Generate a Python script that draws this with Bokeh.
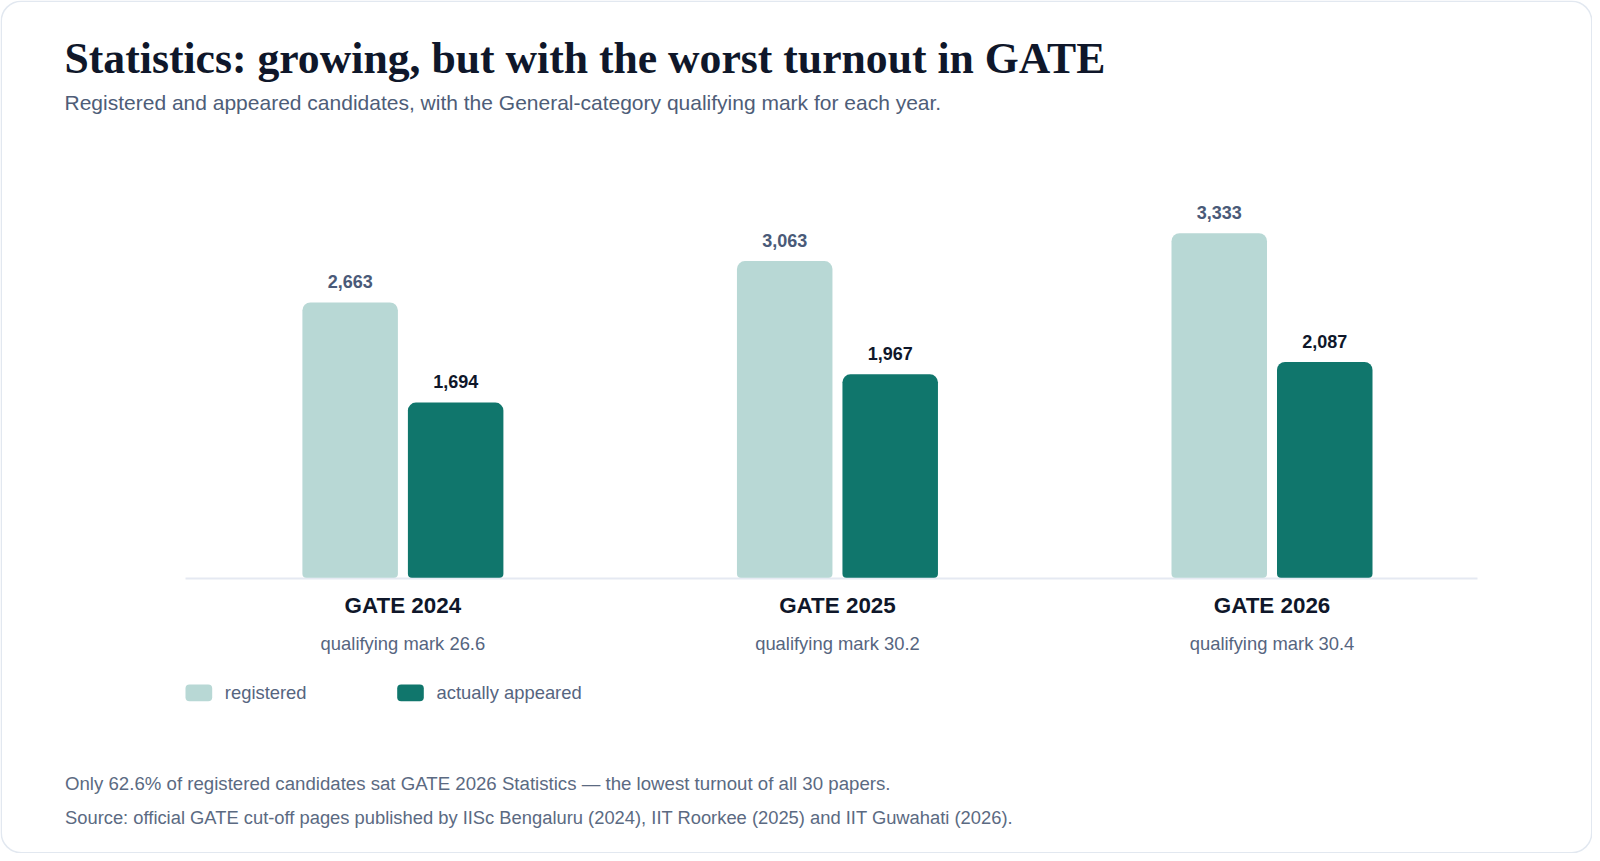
from bokeh.plotting import figure
from bokeh.models import Range1d
from bokeh.core.properties import value
from bokeh.embed import file_html
from bokeh.resources import INLINE

# ---- data ----
years = ["GATE 2024", "GATE 2025", "GATE 2026"]
qualifying_marks = [26.6, 30.2, 30.4]
registered = [2663, 3063, 3333]
appeared = [1694, 1967, 2087]
series_names = ["registered", "actually appeared"]
series_colors = ["#b8d8d5", "#10766c"]

title_text = "Statistics: growing, but with the worst turnout in GATE"
subtitle_text = "Registered and appeared candidates, with the General-category qualifying mark for each year."
note_text = "Only 62.6% of registered candidates sat GATE 2026 Statistics \u2014 the lowest turnout of all 30 papers."
source_text = "Source: official GATE cut-off pages published by IISc Bengaluru (2024), IIT Roorkee (2025) and IIT Guwahati (2026)."

# ---- geometry (pixels) ----
W, H = 1592, 853
GROUP_X0 = 402.4              # pixel centre of first group
GROUP_STEP = 434.55           # pixels between group centres
BASE_Y = 577.2                # pixel row of value 0 (from top)
PX_PER_UNIT = 0.10338         # pixels per candidate
TXT_CORR = 0.33               # baseline correction (em)

xs = -GROUP_X0 / GROUP_STEP
xe = (W - GROUP_X0) / GROUP_STEP
ys = -(H - BASE_Y) / PX_PER_UNIT
ye = BASE_Y / PX_PER_UNIT


def dx(px):  # page px -> data x
    return xs + px / GROUP_STEP


def dy(py):  # page px (from top) -> data y
    return (BASE_Y - py) / PX_PER_UNIT


def ty(py, fs):  # text baseline px -> data y, with correction
    return dy(py - TXT_CORR * fs)


SANS = value("Liberation Sans")
SERIF = value("Liberation Serif")

p = figure(width=W, height=H, x_range=Range1d(xs, xe), y_range=Range1d(ys, ye),
           toolbar_location=None, output_backend="svg",
           x_axis_location=None, y_axis_location=None, min_border=0)
p.grid.visible = False
p.outline_line_color = None
p.background_fill_color = "white"
p.border_fill_color = "white"

# card
p.quad(left=[xs + 0.75 / GROUP_STEP], right=[xe - 0.75 / GROUP_STEP],
       top=[ye - 0.75 / PX_PER_UNIT], bottom=[ys + 0.75 / PX_PER_UNIT],
       fill_color="white", line_color="#e2e8f0", line_width=1.5, border_radius=20)

# baseline
p.segment(x0=[dx(185)], y0=[dy(578)], x1=[dx(1477)], y1=[dy(578)],
          line_color="#e5e9f2", line_width=2)

# bars
bw = 95.5 / GROUP_STEP
d = 52.75 / GROUP_STEP
idx = list(range(len(years)))
x_reg = [i - d for i in idx]
x_app = [i + d for i in idx]
p.vbar(x=x_reg, top=registered, bottom=0, width=bw, fill_color=series_colors[0],
       line_color=None, border_radius=(8, 8, 4, 4))
p.vbar(x=x_app, top=appeared, bottom=0, width=bw, fill_color=series_colors[1],
       line_color=None, border_radius=(8, 8, 4, 4))

# value labels
gap = (14.8 + TXT_CORR * 18) / PX_PER_UNIT
p.text(x=x_reg, y=[v + gap for v in registered], text=[f"{v:,}" for v in registered],
       text_align="center", text_baseline="alphabetic", text_font=SANS,
       text_font_style="bold", text_font_size="18px", text_color="#4a5a78")
p.text(x=x_app, y=[v + gap for v in appeared], text=[f"{v:,}" for v in appeared],
       text_align="center", text_baseline="alphabetic", text_font=SANS,
       text_font_style="bold", text_font_size="18px", text_color="#0f172a")

# category labels
p.text(x=idx, y=[ty(612.7, 22.4)] * len(idx), text=years, text_align="center",
       text_baseline="alphabetic", text_font=SANS, text_font_style="bold",
       text_font_size="22.4px", text_color="#0f172a")
p.text(x=idx, y=[ty(649.3, 18.4)] * len(idx),
       text=[f"qualifying mark {q}" for q in qualifying_marks], text_align="center",
       text_baseline="alphabetic", text_font=SANS, text_font_size="18.4px",
       text_color="#56657f")

# legend
sw_left = [dx(185), dx(396.7)]
sw_right = [dx(211.7), dx(423.3)]
p.quad(left=sw_left, right=sw_right, top=[dy(684)] * 2, bottom=[dy(700.7)] * 2,
       fill_color=series_colors, line_color=None, border_radius=4)
p.text(x=[dx(224.3), dx(436)], y=[ty(698.5, 18.4)] * 2, text=series_names,
       text_align="left", text_baseline="alphabetic", text_font=SANS,
       text_font_size="18.4px", text_color="#56657f")

# title, subtitle, notes
p.text(x=[dx(64)], y=[ty(71.5, 43.7)], text=[title_text], text_font=SERIF,
       text_font_style="bold", text_font_size="43.7px", text_color="#0f172a",
       text_baseline="alphabetic", text_align="left")
p.text(x=[dx(64)], y=[ty(108.8, 21)], text=[subtitle_text], text_font=SANS,
       text_font_size="21px", text_color="#4e5d78",
       text_baseline="alphabetic", text_align="left")
p.text(x=[dx(64.5)], y=[ty(789, 18.65)], text=[note_text], text_font=SANS,
       text_font_size="18.65px", text_color="#5b6a82",
       text_baseline="alphabetic", text_align="left")
p.text(x=[dx(64.5)], y=[ty(823.5, 18.35)], text=[source_text], text_font=SANS,
       text_font_size="18.35px", text_color="#5b6a82",
       text_baseline="alphabetic", text_align="left")

open("out.html", "w").write(file_html(p, INLINE))
